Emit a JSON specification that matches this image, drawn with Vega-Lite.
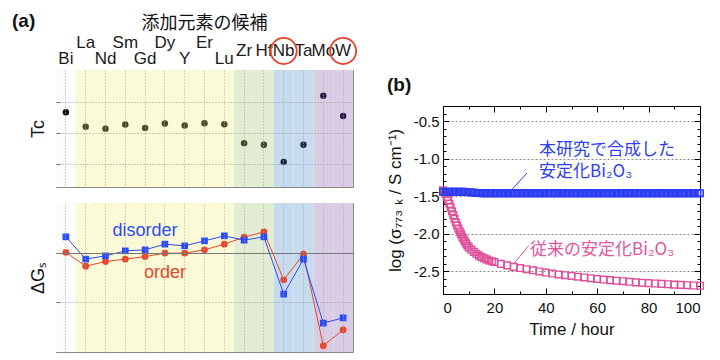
{
"$schema": "https://vega.github.io/schema/vega-lite/v6.json",
"padding": {"left": 12, "top": 12, "right": 0, "bottom": 0},
"background": "white",
"config": {
  "font": "Liberation Sans, Noto Sans CJK JP, sans-serif",
  "view": {"stroke": "#888", "strokeWidth": 1},
  "axis": {"labelFont": "Liberation Sans", "titleFont": "Liberation Sans, Noto Sans CJK JP", "titleFontWeight": "normal", "labelColor": "#111", "titleColor": "#111"},
  "title": {"font": "Liberation Sans, Noto Sans CJK JP", "color": "#111"}
},
"title": {"text": "(a)", "anchor": "start", "frame": "bounds", "fontSize": 19, "fontWeight": "bold", "offset": -16, "dx": -17},
"datasets": {
  "el": [
    {"el":"Bi","i":0,"reg":"Bi","row":"lower","tc":2.66,"dis":0.335,"ord":0.014,"hl":false},
    {"el":"La","i":1,"reg":"RE","row":"upper","tc":2.20,"dis":-0.123,"ord":-0.267,"hl":false},
    {"el":"Nd","i":2,"reg":"RE","row":"lower","tc":2.13,"dis":-0.055,"ord":-0.172,"hl":false},
    {"el":"Sm","i":3,"reg":"RE","row":"upper","tc":2.27,"dis":0.047,"ord":-0.123,"hl":false},
    {"el":"Gd","i":4,"reg":"RE","row":"lower","tc":2.16,"dis":0.068,"ord":-0.07,"hl":false},
    {"el":"Dy","i":5,"reg":"RE","row":"upper","tc":2.30,"dis":0.185,"ord":0.0,"hl":false},
    {"el":"Y","i":6,"reg":"RE","row":"lower","tc":2.24,"dis":0.15,"ord":0.0,"hl":false},
    {"el":"Er","i":7,"reg":"RE","row":"upper","tc":2.31,"dis":0.253,"ord":0.068,"hl":false},
    {"el":"Lu","i":8,"reg":"RE","row":"lower","tc":2.28,"dis":0.355,"ord":0.185,"hl":false},
    {"el":"Zr","i":9,"reg":"ZrHf","row":"middle","tc":1.67,"dis":0.267,"ord":0.328,"hl":false},
    {"el":"Hf","i":10,"reg":"ZrHf","row":"middle","tc":1.62,"dis":0.335,"ord":0.437,"hl":false},
    {"el":"Nb","i":11,"reg":"NbTa","row":"middle","tc":1.06,"dis":-0.842,"ord":-0.548,"hl":true},
    {"el":"Ta","i":12,"reg":"NbTa","row":"middle","tc":1.62,"dis":-0.123,"ord":-0.021,"hl":false},
    {"el":"Mo","i":13,"reg":"MoW","row":"middle","tc":3.19,"dis":-1.437,"ord":-1.90,"hl":false},
    {"el":"W","i":14,"reg":"MoW","row":"middle","tc":2.54,"dis":-1.328,"ord":-1.575,"hl":true}
  ],
  "lab": [
    {"el":"Gd","y":0.46,"txt":"disorder","s":"dis"},
    {"el":"Dy","y":-0.40,"txt":"order","s":"ord"}
  ],
  "blue": [
    {"t":0,"v":-1.44},{"t":1,"v":-1.44},{"t":2,"v":-1.44},{"t":3,"v":-1.44},{"t":4,"v":-1.44},{"t":5,"v":-1.44},{"t":6,"v":-1.44},{"t":7,"v":-1.44},{"t":8,"v":-1.44},{"t":9,"v":-1.445},{"t":10,"v":-1.445},
    {"t":11,"v":-1.45},{"t":12,"v":-1.45},{"t":13,"v":-1.455},{"t":14,"v":-1.455},{"t":15,"v":-1.46},{"t":16,"v":-1.46},{"t":17,"v":-1.46},{"t":18,"v":-1.46},{"t":19,"v":-1.46},{"t":20,"v":-1.46},
    {"t":21,"v":-1.46},{"t":22,"v":-1.46},{"t":23,"v":-1.46},{"t":24,"v":-1.46},{"t":25,"v":-1.46},{"t":26,"v":-1.46},{"t":27,"v":-1.46},{"t":28,"v":-1.46},{"t":29,"v":-1.46},{"t":30,"v":-1.46},
    {"t":31,"v":-1.46},{"t":32,"v":-1.46},{"t":33,"v":-1.46},{"t":34,"v":-1.46},{"t":35,"v":-1.46},{"t":36,"v":-1.46},{"t":37,"v":-1.46},{"t":38,"v":-1.46},{"t":39,"v":-1.46},{"t":40,"v":-1.46},
    {"t":41,"v":-1.46},{"t":42,"v":-1.46},{"t":43,"v":-1.46},{"t":44,"v":-1.46},{"t":45,"v":-1.46},{"t":46,"v":-1.46},{"t":47,"v":-1.46},{"t":48,"v":-1.46},{"t":49,"v":-1.46},{"t":50,"v":-1.46},
    {"t":51,"v":-1.46},{"t":52,"v":-1.46},{"t":53,"v":-1.46},{"t":54,"v":-1.46},{"t":55,"v":-1.46},{"t":56,"v":-1.46},{"t":57,"v":-1.46},{"t":58,"v":-1.46},{"t":59,"v":-1.46},{"t":60,"v":-1.46},
    {"t":61,"v":-1.46},{"t":62,"v":-1.46},{"t":63,"v":-1.46},{"t":64,"v":-1.46},{"t":65,"v":-1.46},{"t":66,"v":-1.46},{"t":67,"v":-1.46},{"t":68,"v":-1.46},{"t":69,"v":-1.46},{"t":70,"v":-1.46},
    {"t":71,"v":-1.46},{"t":72,"v":-1.46},{"t":73,"v":-1.46},{"t":74,"v":-1.46},{"t":75,"v":-1.46},{"t":76,"v":-1.46},{"t":77,"v":-1.46},{"t":78,"v":-1.46},{"t":79,"v":-1.46},{"t":80,"v":-1.46},
    {"t":81,"v":-1.46},{"t":82,"v":-1.46},{"t":83,"v":-1.46},{"t":84,"v":-1.46},{"t":85,"v":-1.46},{"t":86,"v":-1.46},{"t":87,"v":-1.46},{"t":88,"v":-1.46},{"t":89,"v":-1.46},{"t":90,"v":-1.46},
    {"t":91,"v":-1.46},{"t":92,"v":-1.46},{"t":93,"v":-1.46},{"t":94,"v":-1.46},{"t":95,"v":-1.46},{"t":96,"v":-1.46},{"t":97,"v":-1.46},{"t":98,"v":-1.46},{"t":99,"v":-1.46},{"t":100,"v":-1.46}
  ],
  "pink": [
    {"t":0,"v":-1.42},{"t":0.5,"v":-1.44},{"t":1,"v":-1.47},{"t":1.5,"v":-1.51},{"t":2,"v":-1.55},{"t":2.5,"v":-1.60},{"t":3,"v":-1.65},{"t":3.5,"v":-1.70},{"t":4,"v":-1.75},{"t":4.5,"v":-1.80},
    {"t":5,"v":-1.85},{"t":5.5,"v":-1.89},{"t":6,"v":-1.93},{"t":6.5,"v":-1.97},{"t":7,"v":-2.00},{"t":7.5,"v":-2.04},{"t":8,"v":-2.07},{"t":8.5,"v":-2.10},{"t":9,"v":-2.13},{"t":9.5,"v":-2.155},
    {"t":10,"v":-2.18},{"t":11,"v":-2.21},{"t":12,"v":-2.24},{"t":13,"v":-2.265},{"t":14,"v":-2.29},{"t":15,"v":-2.31},{"t":16,"v":-2.325},{"t":17,"v":-2.34},{"t":18,"v":-2.355},{"t":19,"v":-2.365},
    {"t":20,"v":-2.375},{"t":22.5,"v":-2.40},{"t":25,"v":-2.42},{"t":27.5,"v":-2.44},{"t":30,"v":-2.455},{"t":32.5,"v":-2.47},{"t":35,"v":-2.485},{"t":37.5,"v":-2.50},{"t":40,"v":-2.515},{"t":42.5,"v":-2.528},
    {"t":45,"v":-2.54},{"t":47.5,"v":-2.55},{"t":50,"v":-2.56},{"t":52.5,"v":-2.57},{"t":55,"v":-2.58},{"t":57.5,"v":-2.59},{"t":60,"v":-2.60},{"t":62.5,"v":-2.608},{"t":65,"v":-2.615},{"t":67.5,"v":-2.623},
    {"t":70,"v":-2.63},{"t":72.5,"v":-2.638},{"t":75,"v":-2.645},{"t":77.5,"v":-2.65},{"t":80,"v":-2.655},{"t":82.5,"v":-2.66},{"t":85,"v":-2.665},{"t":87.5,"v":-2.67},{"t":90,"v":-2.675},{"t":92.5,"v":-2.679},
    {"t":95,"v":-2.683},{"t":97.5,"v":-2.687},{"t":100,"v":-2.69}
  ],
  "ann": [
    {"t":37.4,"v":-0.88,"txt":"本研究で合成した","s":"this"},
    {"t":37.4,"v":-1.18,"txt":"安定化Bi₂O₃","s":"this"},
    {"t":33.9,"v":-2.212,"txt":"従来の安定化Bi₂O₃","s":"conv"}
  ],
  "lead": [
    {"t":32.7,"v":-1.19,"t2":26.9,"v2":-1.41,"s":"this"},
    {"t":33.4,"v":-2.155,"t2":27.5,"v2":-2.40,"s":"conv"}
  ]
},
"spacing": 25,
"resolve": {"scale": {"color": "independent", "fill": "independent"}},
"hconcat": [
  {
    "spacing": 1,
    "resolve": {"scale": {"color": "independent", "fill": "independent"}},
    "vconcat": [
      {
        "width": 297, "height": 16,
        "view": {"stroke": null},
        "title": {"text": "添加元素の候補", "fontSize": 18, "fontWeight": "normal", "font": "Noto Sans CJK JP", "offset": 1},
        "data": {"name": "el"},
        "layer": [
          {"mark": {"type": "text", "fontSize": 17, "color": "#1a1a1a", "baseline": "middle"},
           "encoding": {
             "x": {"field": "el", "type": "nominal", "sort": null, "scale": {"type": "band", "domain": ["Bi","La","Nd","Sm","Gd","Dy","Y","Er","Lu","Zr","Hf","Nb","Ta","Mo","W"], "paddingInner": 0, "paddingOuter": 0}, "axis": null},
             "y": {"field": "row", "type": "nominal", "scale": {"type": "point", "domain": ["upper","middle","lower"], "padding": 0}, "axis": null},
             "text": {"field": "el"}
           }},
          {"transform": [{"filter": "datum.hl"}],
           "mark": {"type": "point", "shape": "circle", "filled": false, "size": 680, "color": "#e2452b", "strokeWidth": 1.8, "opacity": 1},
           "encoding": {
             "x": {"field": "el", "type": "nominal", "sort": null},
             "y": {"field": "row", "type": "nominal"}
           }}
        ]
      },
      {
        "width": 297, "height": 117,
        "data": {"name": "el"},
        "layer": [
          {"mark": {"type": "rect"},
           "encoding": {
             "x": {"field": "el", "type": "nominal", "sort": null, "scale": {"type": "band", "domain": ["Bi","La","Nd","Sm","Gd","Dy","Y","Er","Lu","Zr","Hf","Nb","Ta","Mo","W"], "paddingInner": 0, "paddingOuter": 0},
                   "axis": {"orient": "bottom", "labels": false, "ticks": false, "domain": false, "grid": true, "bandPosition": 0.5, "gridDash": [1,2], "gridColor": "#aaa", "title": null, "zindex": 1}},
             "fill": {"field": "reg", "type": "nominal", "scale": {"domain": ["Bi","RE","ZrHf","NbTa","MoW"], "range": ["#fcfcfc","#fafad6","#e3edd4","#c6dbee","#d9cde5"]}, "legend": null}
           }},
          {"mark": {"type": "point", "shape": "circle", "filled": true, "size": 42, "opacity": 1},
           "encoding": {
             "x": {"field": "el", "type": "nominal", "sort": null},
             "y": {"field": "tc", "type": "quantitative", "scale": {"domain": [0.26, 4.02], "nice": false, "zero": false},
                   "axis": {"values": [1,2,3], "labels": false, "domain": false, "ticks": true, "tickSize": -4, "tickColor": "#777", "grid": true, "gridDash": [1,2], "gridColor": "#999", "title": "Tc", "titleFontSize": 18, "titlePadding": 8, "zindex": 1}},
             "color": {"field": "reg", "type": "nominal", "scale": {"domain": ["Bi","RE","ZrHf","NbTa","MoW"], "range": ["#111111","#4d4b22","#3c4a28","#1b2c4c","#2c1d47"]}, "legend": null}
           }}
        ]
      },
      {
        "width": 297, "height": 149,
        "layer": [
          {"data": {"name": "el"},
           "mark": {"type": "rect"},
           "encoding": {
             "x": {"field": "el", "type": "nominal", "sort": null, "scale": {"type": "band", "domain": ["Bi","La","Nd","Sm","Gd","Dy","Y","Er","Lu","Zr","Hf","Nb","Ta","Mo","W"], "paddingInner": 0, "paddingOuter": 0},
                   "axis": {"orient": "top", "labels": false, "ticks": true, "tickSize": 13, "tickColor": "transparent", "tickOpacity": 0, "domain": false, "grid": true, "bandPosition": 0.5, "gridDash": [1,2], "gridColor": "#aaa", "title": null, "zindex": 1}},
             "fill": {"field": "reg", "type": "nominal", "scale": {"domain": ["Bi","RE","ZrHf","NbTa","MoW"], "range": ["#fcfcfc","#fafad6","#e3edd4","#c6dbee","#d9cde5"]}, "legend": null}
           }},
          {"data": {"name": "el"},
           "mark": {"type": "line", "color": "#e8452a", "strokeWidth": 1},
           "encoding": {
             "x": {"field": "el", "type": "nominal", "sort": null},
             "y": {"field": "ord", "type": "quantitative", "scale": {"domain": [-2.03, 1.03], "nice": false, "zero": false},
                   "axis": {"values": [0,-1], "labels": false, "domain": false, "ticks": true, "tickSize": -4, "tickColor": "#777", "grid": true,
                            "gridDash": {"condition": {"test": "datum.value == 0", "value": []}, "value": [1,2]},
                            "gridColor": {"condition": {"test": "datum.value == 0", "value": "#777"}, "value": "#999"},
                            "title": "ΔGₛ", "titleFontSize": 18, "titlePadding": 8, "zindex": 1}},
             "order": {"field": "i", "type": "quantitative"}
           }},
          {"data": {"name": "el"},
           "mark": {"type": "line", "color": "#2c4cf5", "strokeWidth": 1},
           "encoding": {
             "x": {"field": "el", "type": "nominal", "sort": null},
             "y": {"field": "dis", "type": "quantitative"},
             "order": {"field": "i", "type": "quantitative"}
           }},
          {"data": {"name": "el"},
           "mark": {"type": "point", "shape": "circle", "filled": true, "size": 45, "color": "#e8452a", "opacity": 1},
           "encoding": {
             "x": {"field": "el", "type": "nominal", "sort": null},
             "y": {"field": "ord", "type": "quantitative"}
           }},
          {"data": {"name": "el"},
           "mark": {"type": "point", "shape": "square", "filled": true, "size": 45, "color": "#2c4cf5", "opacity": 1},
           "encoding": {
             "x": {"field": "el", "type": "nominal", "sort": null},
             "y": {"field": "dis", "type": "quantitative"}
           }},
          {"data": {"name": "lab"},
           "mark": {"type": "text", "fontSize": 18, "baseline": "middle"},
           "encoding": {
             "x": {"field": "el", "type": "nominal", "sort": null},
             "y": {"field": "y", "type": "quantitative"},
             "text": {"field": "txt"},
             "color": {"field": "s", "type": "nominal", "scale": {"domain": ["dis","ord"], "range": ["#2c4cf5","#e8452a"]}, "legend": null}
           }}
        ]
      }
    ]
  },
  {
    "spacing": 10,
    "vconcat": [
      {
        "width": 257, "height": 31,
        "view": {"stroke": null},
        "data": {"values": []},
        "mark": "text",
        "encoding": {},
        "title": {"text": "(b)", "orient": "bottom", "anchor": "start", "frame": "group", "fontSize": 19, "fontWeight": "bold", "offset": 2, "dx": -56}
      },
      {
        "width": 257, "height": 188,
        "view": {"stroke": "#000"},
        "layer": [
          {"data": {"name": "pink"},
           "mark": {"type": "point", "shape": "square", "filled": false, "size": 45, "color": "#e0509a", "strokeWidth": 1.4, "opacity": 1},
           "encoding": {
             "x": {"field": "t", "type": "quantitative", "scale": {"domain": [0, 100], "nice": false},
                   "axis": {"orient": "bottom", "values": [0,10,20,30,40,50,60,70,80,90,100],
                            "labelExpr": "datum.value % 20 === 0 ? datum.label : ''",
                            "tickSize": {"condition": {"test": "datum.value % 20 === 0", "value": -6}, "value": -3},
                            "tickColor": "#000", "domainColor": "#000", "labelFontSize": 15, "labelPadding": 12, "grid": false,
                            "title": "Time / hour", "titleFontSize": 17, "titlePadding": 6}},
             "y": {"field": "v", "type": "quantitative", "scale": {"domain": [-2.8, -0.3], "nice": false, "zero": false},
                   "axis": {"orient": "left", "values": [-2.7,-2.6,-2.5,-2.4,-2.3,-2.2,-2.1,-2.0,-1.9,-1.8,-1.7,-1.6,-1.5,-1.4,-1.3,-1.2,-1.1,-1.0,-0.9,-0.8,-0.7,-0.6,-0.5,-0.4],
                            "labelExpr": "abs(datum.value*2 - round(datum.value*2)) < 0.01 ? replace(format(datum.value, '.1f'), '\u2212', '-') : ''",
                            "tickSize": {"condition": {"test": "abs(datum.value*2 - round(datum.value*2)) < 0.01", "value": -6}, "value": -3},
                            "tickColor": "#000", "domainColor": "#000", "labelFontSize": 15, "labelPadding": 10,
                            "grid": true, "gridDash": [2,2], "gridColor": "#888",
                            "gridOpacity": {"condition": {"test": "abs(datum.value*2 - round(datum.value*2)) < 0.01", "value": 1}, "value": 0},
                            "title": "log (σ₇₇₃ ₖ / S cm⁻¹)", "titleFontSize": 17, "titlePadding": 9}}
           }},
          {"data": {"name": "blue"},
           "mark": {"type": "point", "shape": "square", "filled": false, "size": 40, "color": "#2b3cf2", "strokeWidth": 1.6, "opacity": 1},
           "encoding": {
             "x": {"field": "t", "type": "quantitative",
                   "axis": {"orient": "top", "values": [0,10,20,30,40,50,60,70,80,90,100], "labels": false,
                            "tickSize": {"condition": {"test": "datum.value % 20 === 0", "value": -6}, "value": -3},
                            "tickColor": "#000", "domainColor": "#000", "grid": false, "title": null}},
             "y": {"field": "v", "type": "quantitative",
                   "axis": {"orient": "right", "values": [-2.7,-2.6,-2.5,-2.4,-2.3,-2.2,-2.1,-2.0,-1.9,-1.8,-1.7,-1.6,-1.5,-1.4,-1.3,-1.2,-1.1,-1.0,-0.9,-0.8,-0.7,-0.6,-0.5,-0.4], "labels": false,
                            "tickSize": {"condition": {"test": "abs(datum.value*2 - round(datum.value*2)) < 0.01", "value": -6}, "value": -3},
                            "tickColor": "#000", "domainColor": "#000", "grid": false, "title": null}}
           }},
          {"data": {"name": "lead"},
           "mark": {"type": "rule", "strokeWidth": 1},
           "encoding": {
             "x": {"field": "t", "type": "quantitative", "axis": null},
             "x2": {"field": "t2"},
             "y": {"field": "v", "type": "quantitative", "axis": null},
             "y2": {"field": "v2"},
             "color": {"field": "s", "type": "nominal", "scale": {"domain": ["this","conv"], "range": ["#3040f0","#e055a0"]}, "legend": null}
           }},
          {"data": {"name": "ann"},
           "mark": {"type": "text", "fontSize": 17, "align": "left", "baseline": "middle", "font": "Noto Sans CJK JP, Liberation Sans"},
           "encoding": {
             "x": {"field": "t", "type": "quantitative", "axis": null},
             "y": {"field": "v", "type": "quantitative", "axis": null},
             "text": {"field": "txt"},
             "color": {"field": "s", "type": "nominal", "legend": null}
           }}
        ],
        "resolve": {"axis": {"x": "independent", "y": "independent"}}
      }
    ]
  }
]
}
